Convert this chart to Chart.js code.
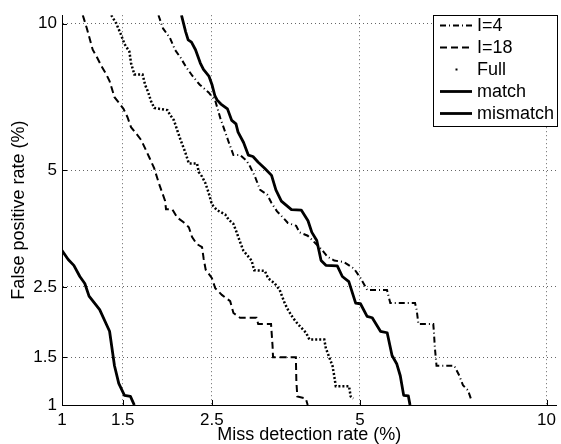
<!DOCTYPE html>
<html>
<head>
<meta charset="utf-8">
<script src="https://cdn.jsdelivr.net/npm/chart.js@4.4.1/dist/chart.umd.min.js"></script>
<style>
  html, body { margin: 0; padding: 0; background: #fff; }
  #detChart { display: block; }
</style>
</head>
<body>
<canvas id="detChart" width="561" height="444"></canvas>
<script>
// axis ticks and limits (%)
const xTicks = [1, 1.5, 2.5, 5, 10];
const yTicks = [1, 1.5, 2.5, 5, 10];
const xLimits = [1, 10.33];
const yLimits = [1, 10.36];

const seriesLabels = ['I=4', 'I=18', 'Full', 'match', 'mismatch'];

// I=4 (miss detection %, false positive %)
const i4Miss = [1.860, 1.910, 1.988, 2.044, 2.110, 2.169, 2.248, 2.343, 2.457, 2.544, 2.611, 2.679, 2.724, 2.794, 2.889, 2.985, 3.035, 3.110, 3.190, 3.299, 3.367, 3.459, 3.585, 3.640, 3.781, 3.839, 3.985, 4.075, 4.166, 4.258, 4.352, 4.480, 4.675, 4.775, 4.876, 5.012, 5.152, 5.586, 5.660, 6.241, 6.282, 6.323, 6.693, 6.708, 6.733, 6.776, 7.243, 7.377, 7.476, 7.613, 7.703];
const i4FalsePos = [10.36, 9.80, 9.40, 8.94, 8.63, 8.31, 7.97, 7.64, 7.37, 7.09, 6.53, 6.09, 5.81, 5.42, 5.42, 5.26, 5.11, 4.84, 4.50, 4.39, 4.19, 3.99, 3.81, 3.73, 3.67, 3.53, 3.46, 3.36, 3.26, 3.16, 3.04, 2.97, 2.94, 2.88, 2.82, 2.65, 2.45, 2.45, 2.24, 2.24, 2.13, 1.93, 1.93, 1.83, 1.62, 1.40, 1.40, 1.29, 1.19, 1.14, 1.05];

// I=18
const i18Miss = [1.156, 1.188, 1.236, 1.269, 1.311, 1.351, 1.380, 1.424, 1.463, 1.507, 1.544, 1.579, 1.631, 1.680, 1.762, 1.814, 1.867, 1.932, 1.943, 2.013, 2.071, 2.149, 2.208, 2.248, 2.306, 2.372, 2.393, 2.419, 2.500, 2.544, 2.633, 2.748, 2.794, 2.889, 3.134, 3.160, 3.362, 3.386, 3.394, 3.776, 3.784, 3.801, 3.950, 3.985];
const i18FalsePos = [10.36, 9.81, 8.94, 8.67, 8.30, 8.01, 7.77, 7.21, 7.03, 6.82, 6.56, 6.24, 6.04, 5.85, 5.36, 5.06, 4.65, 4.24, 4.04, 4.04, 3.85, 3.74, 3.64, 3.43, 3.29, 3.23, 3.00, 2.80, 2.65, 2.48, 2.37, 2.27, 2.09, 2.02, 2.02, 1.93, 1.93, 1.64, 1.50, 1.50, 1.24, 1.08, 1.06, 1.00];

// Full
const fullMiss = [1.395, 1.440, 1.485, 1.516, 1.563, 1.579, 1.611, 1.693, 1.721, 1.751, 1.779, 1.814, 1.958, 1.988, 2.033, 2.071, 2.110, 2.169, 2.208, 2.309, 2.330, 2.372, 2.415, 2.457, 2.500, 2.566, 2.679, 2.724, 2.794, 2.840, 2.889, 2.937, 3.059, 3.099, 3.263, 3.315, 3.421, 3.503, 3.585, 3.640, 3.724, 3.810, 3.955, 4.016, 4.290, 4.320, 4.384, 4.447, 4.480, 4.511, 4.775, 4.807, 4.862];
const fullFalsePos = [10.36, 10.01, 9.53, 9.17, 8.87, 8.43, 8.01, 8.01, 7.62, 7.38, 7.09, 6.85, 6.78, 6.63, 6.45, 6.14, 5.85, 5.47, 5.19, 5.19, 4.96, 4.84, 4.67, 4.43, 4.15, 4.02, 3.92, 3.81, 3.71, 3.53, 3.33, 3.16, 2.97, 2.79, 2.78, 2.65, 2.56, 2.45, 2.24, 2.14, 2.02, 1.93, 1.81, 1.72, 1.72, 1.61, 1.50, 1.40, 1.29, 1.18, 1.18, 1.08, 1.06];

// match
const matchMiss = [1.000, 1.045, 1.087, 1.133, 1.172, 1.206, 1.294, 1.380, 1.424, 1.463, 1.516, 1.573, 1.611];
const matchFalsePos = [3.16, 2.99, 2.88, 2.68, 2.56, 2.35, 2.14, 1.83, 1.40, 1.21, 1.09, 1.08, 1.00];

// mismatch
const mismatchMiss = [2.12, 2.17, 2.20, 2.24, 2.29, 2.35, 2.39, 2.46, 2.50, 2.54, 2.57, 2.62, 2.71, 2.77, 2.83, 2.86, 2.94, 3.01, 3.08, 3.16, 3.26, 3.37, 3.44, 3.53, 3.70, 3.87, 3.99, 4.06, 4.15, 4.23, 4.32, 4.54, 4.64, 4.77, 4.91, 5.01, 5.15, 5.26, 5.44, 5.59, 5.70, 5.81, 5.89, 5.97, 6.08, 6.12];
const mismatchFalsePos = [10.36, 9.66, 9.33, 9.24, 8.94, 8.43, 8.19, 7.95, 7.65, 7.25, 7.11, 6.98, 6.82, 6.45, 6.34, 6.09, 5.78, 5.42, 5.38, 5.22, 5.06, 4.87, 4.50, 4.23, 4.03, 4.02, 3.78, 3.53, 3.36, 2.97, 2.88, 2.87, 2.68, 2.59, 2.24, 2.23, 2.04, 2.02, 1.83, 1.81, 1.52, 1.42, 1.29, 1.09, 1.085, 1.00];

const FONT = '"Liberation Sans", Arial, Helvetica, sans-serif';

// axis spaced by cube root of the value, like the original figure
class CubeRootScale extends Chart.Scale {
    determineDataLimits() {
        this.min = this.options.min;
        this.max = this.options.max;
    }
    getLabelForValue(value) {
        return String(value);
    }
    configure() {
        super.configure();
        this._start = Math.cbrt(this.min);
        this._span = Math.cbrt(this.max) - this._start;
    }
    getPixelForValue(value) {
        return this.getPixelForDecimal((Math.cbrt(value) - this._start) / this._span);
    }
    getValueForPixel(pixel) {
        return Math.pow(this._start + this.getDecimalForPixel(pixel) * this._span, 3);
    }
}
CubeRootScale.id = 'cuberoot';
CubeRootScale.defaults = {};
Chart.register(CubeRootScale);

function zip(xs, ys) {
    return xs.map((x, i) => ({ x: x, y: ys[i] }));
}

// small ticks pointing into the plot
const innerTicks = {
    id: 'innerTicks',
    afterDatasetsDraw(chart) {
        const { ctx, chartArea: a, scales } = chart;
        ctx.save();
        ctx.strokeStyle = '#000';
        ctx.lineWidth = 1;
        ctx.beginPath();
        xTicks.forEach(v => {
            const px = Math.round(scales.x.getPixelForValue(v)) + 0.5;
            ctx.moveTo(px, a.bottom);
            ctx.lineTo(px, a.bottom - 5);
        });
        yTicks.forEach(v => {
            const py = Math.round(scales.y.getPixelForValue(v)) + 0.5;
            ctx.moveTo(a.left, py);
            ctx.lineTo(a.left + 5, py);
        });
        ctx.stroke();
        ctx.restore();
    }
};

// boxed legend inside the plot, top right
const legendBox = {
    id: 'legendBox',
    afterDraw(chart) {
        const ctx = chart.ctx;
        ctx.save();
        ctx.fillStyle = '#fff';
        ctx.fillRect(433.5, 15.5, 124, 111);
        ctx.strokeStyle = '#000';
        ctx.lineWidth = 1;
        ctx.strokeRect(433.5, 15.5, 124, 111);
        ctx.font = '18px ' + FONT;
        ctx.textBaseline = 'middle';
        chart.data.datasets.forEach((ds, i) => {
            const cy = 25.5 + i * 22;
            if (ds.label === 'Full') {
                ctx.fillStyle = '#000';
                ctx.fillRect(455.5, cy - 1, 2, 2);
            } else {
                ctx.beginPath();
                ctx.setLineDash(ds.borderDash || []);
                ctx.lineWidth = ds.borderWidth;
                ctx.strokeStyle = '#000';
                ctx.moveTo(440, cy);
                ctx.lineTo(472, cy);
                ctx.stroke();
                ctx.setLineDash([]);
            }
            ctx.fillStyle = '#000';
            ctx.fillText(ds.label, 477, cy + 1);
        });
        ctx.restore();
    }
};

Chart.defaults.font.family = FONT;
Chart.defaults.font.size = 17;
Chart.defaults.color = '#000';

const ctx = document.getElementById('detChart').getContext('2d');
const detChart = new Chart(ctx, {
    type: 'line',
    data: {
        datasets: [{
            label: seriesLabels[0],
            data: zip(i4Miss, i4FalsePos),
            borderColor: '#000',
            borderWidth: 2,
            borderDash: [6, 3, 1, 3]
        }, {
            label: seriesLabels[1],
            data: zip(i18Miss, i18FalsePos),
            borderColor: '#000',
            borderWidth: 2,
            borderDash: [7, 4]
        }, {
            label: seriesLabels[2],
            data: zip(fullMiss, fullFalsePos),
            borderColor: '#000',
            borderWidth: 2.5,
            borderDash: [2, 2]
        }, {
            label: seriesLabels[3],
            data: zip(matchMiss, matchFalsePos),
            borderColor: '#000',
            borderWidth: 2.8,
            borderJoinStyle: 'round'
        }, {
            label: seriesLabels[4],
            data: zip(mismatchMiss, mismatchFalsePos),
            borderColor: '#000',
            borderWidth: 2.8,
            borderJoinStyle: 'round'
        }]
    },
    options: {
        responsive: false,
        animation: false,
        events: [],
        devicePixelRatio: 1,
        layout: { padding: { top: 10, right: 0, bottom: 0, left: 0 } },
        elements: {
            point: { radius: 0 },
            line: { tension: 0, fill: false }
        },
        scales: {
            x: {
                type: 'cuberoot',
                min: xLimits[0],
                max: xLimits[1],
                afterBuildTicks: s => { s.ticks = xTicks.map(v => ({ value: v })); },
                afterFit: s => { s.height = 39; },
                ticks: {
                    autoSkip: false,
                    maxRotation: 0,
                    padding: 5,
                    font: { size: 17 },
                    callback: v => String(v)
                },
                grid: { color: 'rgba(0,0,0,0.6)', lineWidth: 1, drawTicks: false },
                border: { color: '#000', width: 1, dash: [1, 3] },
                title: {
                    display: true,
                    text: 'Miss detection rate (%)',
                    font: { size: 18 },
                    padding: { top: 0, bottom: -2 }
                }
            },
            y: {
                type: 'cuberoot',
                min: yLimits[0],
                max: yLimits[1],
                afterBuildTicks: s => { s.ticks = yTicks.map(v => ({ value: v })); },
                afterFit: s => { s.width = 62; },
                ticks: {
                    autoSkip: false,
                    padding: 5,
                    font: { size: 17 },
                    callback: v => String(v)
                },
                grid: { color: 'rgba(0,0,0,0.6)', lineWidth: 1, drawTicks: false },
                border: { color: '#000', width: 1, dash: [1, 3] },
                title: {
                    display: true,
                    text: 'False positive rate (%)',
                    font: { size: 18 },
                    padding: { top: 8, bottom: 0 }
                }
            }
        },
        plugins: {
            legend: { display: false },
            tooltip: { enabled: false }
        }
    },
    plugins: [innerTicks, legendBox]
});
</script>
</body>
</html>
